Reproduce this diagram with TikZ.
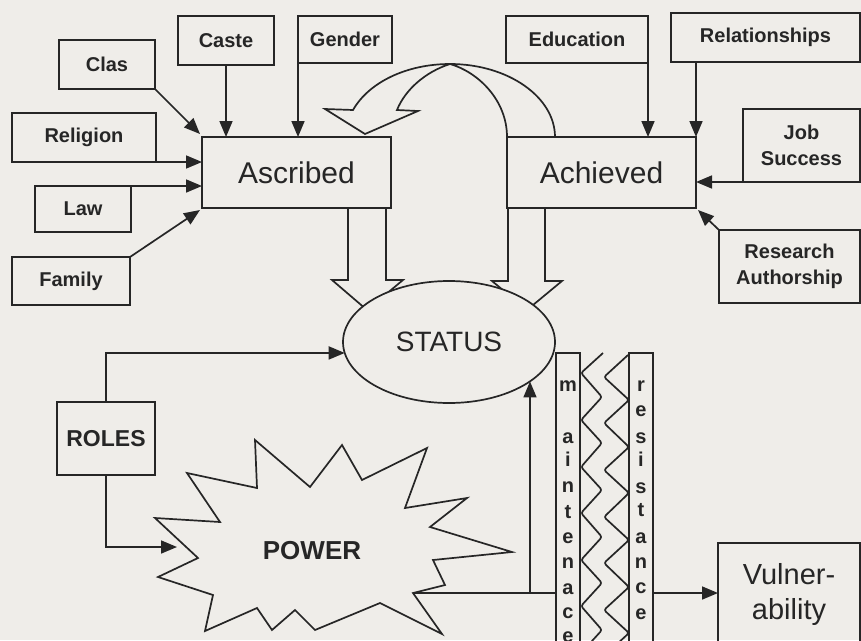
\documentclass[tikz,border=0pt]{standalone}
\usepackage{fontspec}
\setmainfont{Liberation Sans}
\usetikzlibrary{arrows.meta,shapes.geometric}
\definecolor{ink}{HTML}{262626}
\definecolor{paper}{HTML}{EFEDE9}
\newcommand\boxfont{\fontsize{20}{26}\selectfont\bfseries}
\begin{document}
\begin{tikzpicture}[x=1pt,y=-1pt,
  ln/.style={draw=ink,line width=1.7pt},
  box/.style={ln,rectangle,inner sep=0pt,outer sep=0pt,align=center,text=ink},
  lbl/.style={box,font=\boxfont},
  arr/.style={ln,-{Triangle[length=16pt,width=13pt]}},
  blk/.style={ln,line join=miter},
  barletter/.style={font=\fontsize{20}{20}\selectfont\bfseries,text=ink,anchor=base,inner sep=0pt}]
\useasboundingbox (0,0) rectangle (861,640);
\fill[paper] (0,0) rectangle (861,640);
\clip (0,0) rectangle (861,640);

% ---- left boxes
\node[lbl,minimum width=96pt,minimum height=49pt] (clas) at (107,64.5) {Clas};
\node[lbl,minimum width=96pt,minimum height=49pt] (caste) at (226,40.5) {Caste};
\node[lbl,minimum width=94pt,minimum height=47pt] (gender) at (345,39.5) {Gender};
\node[lbl,minimum width=144pt,minimum height=49pt] (religion) at (84,137.5) {Religion};
\node[lbl,minimum width=96pt,minimum height=46pt] (law) at (83,209) {Law};
\node[lbl,minimum width=118pt,minimum height=48pt] (family) at (71,281) {Family};
\node[box,minimum width=189pt,minimum height=71pt,font=\fontsize{30}{36}\selectfont] (ascribed) at (296.5,172.5) {Ascribed};

% ---- right boxes
\node[lbl,minimum width=142pt,minimum height=47pt] (education) at (577,39.5) {Education};
\node[lbl,minimum width=189pt,minimum height=49pt] (relationships) at (765.5,37.5) {Relationships};
\node[lbl,minimum width=117pt,minimum height=73pt] (job) at (801.5,145.5) {Job\\Success};
\node[lbl,minimum width=141pt,minimum height=73pt] (research) at (789.5,266.5) {Research\\Authorship};
\node[box,minimum width=189pt,minimum height=71pt,font=\fontsize{30}{36}\selectfont] (achieved) at (601.5,172.5) {Achieved};

% ---- arrows into Ascribed
\draw[arr] (clas.south east) -- ([xshift=-2pt,yshift=3pt]ascribed.north west);
\draw[arr] (caste.south) -- (caste.south |- ascribed.north);
\draw[arr] (gender.south west) -- (gender.south west |- ascribed.north);
\draw[arr] (religion.south east) -- (religion.south east -| ascribed.west);
\draw[arr] (law.north east) -- (law.north east -| ascribed.west);
\draw[arr] (family.north east) -- ([xshift=-2pt,yshift=-2pt]ascribed.south west);

% ---- arrows into Achieved
\draw[arr] (education.south east) -- (education.south east |- achieved.north);
\draw[arr] (achieved.north east |- relationships.south) -- (achieved.north east);
\draw[arr] (job.south west) -- (job.south west -| achieved.east);
\draw[arr] (research.north west) -- ([xshift=2pt,yshift=-2pt]achieved.south east);

% ---- curved block arrow Achieved -> Ascribed
\draw[blk] (555,137) .. controls (555,97) and (508,64) .. (450,64)
  .. controls (407,64) and (369,82) .. (353,110) -- (325,109) -- (365,134)
  -- (418,111) -- (397,110) .. controls (405,90) and (425,72) .. (450,64)
  .. controls (478,72) and (507,100) .. (507,137);

% ---- block arrows down to STATUS
\draw[blk] (348,208) -- (348,280) -- (332,280) -- (367,310) -- (403,280) -- (386,280) -- (386,208);
\draw[blk] (508,208) -- (508,281) -- (492,281) -- (527,310) -- (562,281) -- (545,281) -- (545,208);

\node[ellipse,ln,fill=paper,inner sep=0pt,outer sep=0pt,minimum width=212pt,minimum height=122pt,
      font=\fontsize{28}{32}\selectfont,text=ink] (status) at (449,342) {STATUS};

% ---- ROLES
\node[box,minimum width=98pt,minimum height=73pt,font=\fontsize{23}{26}\selectfont\bfseries] (roles) at (106,438.5) {ROLES};

% ---- POWER starburst
\draw[blk] (413,593) coordinate (bc) -- (442,634) -- (380,603) -- (315,630) -- (295,610)
  -- (272,630) -- (257,608) -- (205,631) -- (213,595) -- (158,577) -- (198,558)
  -- (155,518) -- (220,522) -- (187,473) -- (257,488) -- (255,440) -- (310,487)
  -- (342,445) -- (362,480) -- (427,448) -- (405,508) -- (467,498) -- (430,527)
  -- (512,552) -- (433,560) -- (445,585) -- cycle;
\node[font=\fontsize{26}{30}\selectfont\bfseries,text=ink] (power) at (312,551) {POWER};
\coordinate (pw) at (177,547);

\draw[arr] (roles.north) |- (status.186);
\draw[arr] (roles.south) |- (pw);

% ---- bars
\node[box,minimum width=24pt,minimum height=292pt] (maint) at (568,499) {};
\node[box,minimum width=24pt,minimum height=292pt] (resist) at (641,499) {};
\foreach \ch/\yy [count=\i] in {m/385,a/437,i/460,n/486,t/512,e/537,n/562,a/588,c/612,e/636}
  \node[barletter] (mt\i) at (568,\yy+6) {\ch};
\foreach \ch/\yy [count=\i] in {r/385,e/410,s/437,i/460,s/487,t/510,a/537,n/562,c/587,e/613}
  \node[barletter] (rs\i) at (641,\yy+6) {\ch};

% zigzags
\draw[ln,rounded corners=2.5pt] (603,353) -- (581,373) -- (602,397) -- (581,420) -- (602,443)
  -- (581,467) -- (602,490) -- (581,513) -- (602,537) -- (581,560) -- (602,583)
  -- (581,606) -- (602,630) -- (581,653);
\draw[ln,rounded corners=2.5pt] (628,355) -- (604,377) -- (629,400) -- (604,423) -- (629,447)
  -- (604,470) -- (629,493) -- (604,517) -- (629,540) -- (604,563) -- (629,587)
  -- (604,610) -- (629,633) -- (604,656);

% ---- Vulnerability
\node[box,minimum width=142pt,minimum height=102pt,font=\fontsize{29}{35}\selectfont] (vuln) at (789,594) {Vulner-\\ability};

% ---- power connections
\coordinate (pj) at (530,593);
\draw[ln] (bc) -- (maint.west |- bc);
\draw[arr] (pj) -- (pj |- status.-26);
\draw[arr] (resist.east |- bc) -- (vuln.west |- bc);
\end{tikzpicture}
\end{document}
